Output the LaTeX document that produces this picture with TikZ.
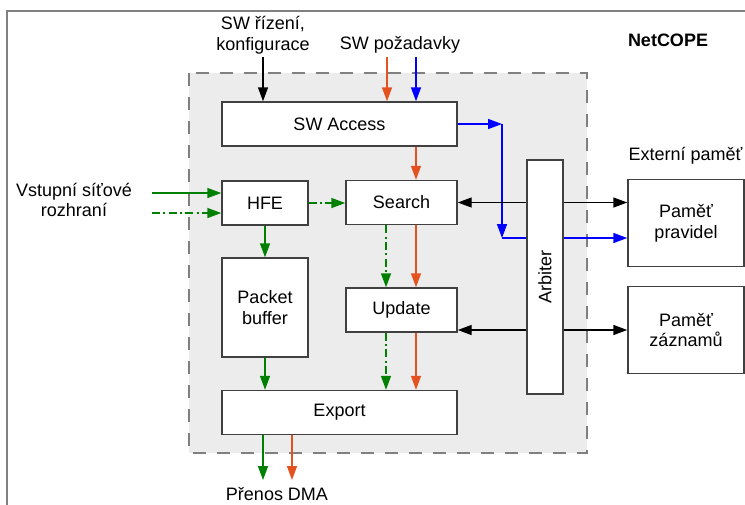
\documentclass[tikz,border=0pt]{standalone}
\usepackage{fontspec}
\setmainfont{Liberation Sans}
\usetikzlibrary{arrows.meta}
\definecolor{grn}{RGB}{0,128,0}
\definecolor{org}{RGB}{228,82,32}
\definecolor{blu}{RGB}{0,0,255}
\definecolor{boxline}{RGB}{64,64,64}
\definecolor{areafill}{RGB}{236,236,236}

\begin{document}
\begin{tikzpicture}[x=0.75pt,y=-0.75pt,>={Triangle[length=10.5pt,width=7.5pt]},
  font=\fontsize{13.5}{15.5}\selectfont,
  box/.style={draw=boxline,fill=white,line width=1.1pt,inner sep=0pt,align=center},
  wide/.style={box,minimum width=176.25pt,minimum height=33pt},
  small/.style={box,minimum width=64.5pt,minimum height=33pt},
  mid/.style={box,minimum width=83.25pt,minimum height=33pt},
  mem/.style={box,minimum width=87pt,minimum height=65pt},
  kline/.style={line width=1.1pt,draw=black},
  gline/.style={line width=1.1pt,draw=grn},
  gdash/.style={gline,dash pattern=on 6pt off 2.5pt on 1.5pt off 2.5pt},
  oline/.style={line width=1.1pt,draw=org},
  bline/.style={line width=1.1pt,draw=blu}]
  \useasboundingbox(0,0)rectangle(745,504);
  \clip(0,0)rectangle(745,504);
  \draw[gray,line width=1pt](7,11)rectangle(760,520);
  \draw[gray,fill=areafill,line width=1pt,dash pattern=on 10pt off 8pt](189,73)rectangle(587,453);

  \node[wide](swacc)at(339.5,124){SW Access};
  \node[small](hfe)at(265,203){HFE};
  \node[mid](search)at(401.5,202.5){Search};
  \node[small,minimum height=74.25pt](pbuf)at(265,307.5){Packet\\buffer};
  \node[mid](update)at(401.5,310){Update};
  \node[wide](export)at(339.5,412.5){Export};
  \node[box,minimum width=27pt,minimum height=175.5pt](arbiter)at(545,277){\rotatebox{90}{Arbiter}};
  \node[mem](mrule)at(686,223){Paměť\\pravidel};
  \node[mem](mrec)at(686,330){Paměť\\záznamů};

  \node[align=center](swctl)at(263,35){SW řízení,\\konfigurace};
  \node(swreq)at(400,45){SW požadavky};
  \node[font=\fontsize{13.5}{15.5}\selectfont\bfseries](title)at(668,40){NetCOPE};
  \node[anchor=west](extmem)at(624,156){Externí paměť};
  \node[align=center](netin)at(74,200){Vstupní síťové\\rozhraní};
  \node[anchor=base](dma)at(277,500){Přenos DMA};

  \coordinate(ctlin)at(263,57);
  \coordinate(orgin)at(387,57);
  \coordinate(bluin)at(416,57);
  \coordinate(ocol)at(416,0);
  \coordinate(gcol)at(386,0);
  \coordinate(bturn)at(502,124);
  \coordinate(bdown)at(502,238);
  \coordinate(datin)at(152,193);
  \coordinate(ctxin)at(152,213);
  \coordinate(gout)at(263,480);
  \coordinate(oout)at(292,480);

  % SW inputs
  \draw[kline,->](ctlin)--(ctlin|-swacc.north);
  \draw[oline,->](orgin)--(orgin|-swacc.north);
  \draw[bline,->](bluin)--(bluin|-swacc.north);
  \draw[oline,->](swacc.south-|ocol)--(search.north-|ocol);
  \draw[bline,->](swacc.east)--(bturn);
  \draw[bline,->](bturn)--(bdown);
  \draw[bline](bdown)--(bdown-|arbiter.west);
  \draw[bline,->](bdown-|arbiter.east)--(bdown-|mrule.west);

  % packet path
  \draw[gline,->](datin)--(datin-|hfe.west);
  \draw[gdash,->](ctxin)--(ctxin-|hfe.west);
  \draw[gdash,->](hfe.east)--(hfe.east-|search.west);
  \draw[gline,->](hfe.south)--(pbuf.north);
  \draw[gline,->](pbuf.south)--(pbuf.south|-export.north);
  \draw[gdash,->](search.south-|gcol)--(update.north-|gcol);
  \draw[oline,->](search.south-|ocol)--(update.north-|ocol);
  \draw[gdash,->](update.south-|gcol)--(export.north-|gcol);
  \draw[oline,->](update.south-|ocol)--(export.north-|ocol);
  \draw[gline,->](export.south-|gout)--(gout);
  \draw[oline,->](export.south-|oout)--(oout);

  % memories
  \draw[kline,->](arbiter.west|-search)--(search.east);
  \draw[kline,->](arbiter.east|-search)--(mrule.west|-search);
  \draw[kline,->](arbiter.west|-mrec.west)--(update.east|-mrec.west);
  \draw[kline,->](arbiter.east|-mrec.west)--(mrec.west);
\end{tikzpicture}
\end{document}
